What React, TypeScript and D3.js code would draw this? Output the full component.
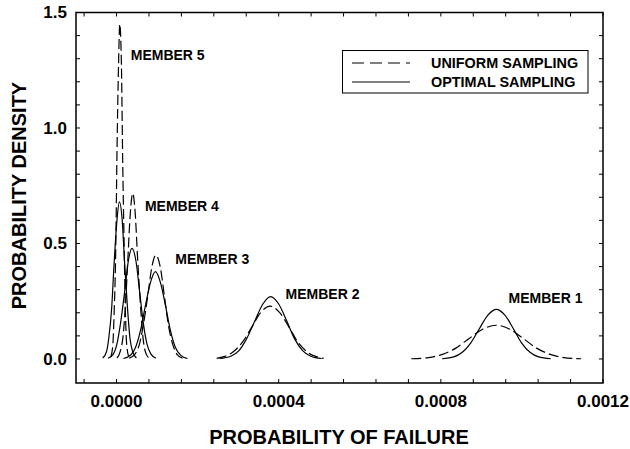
import * as d3 from 'd3'

// x values are in units of 1e-4 (probability of failure), y is density
const X_UNIT = 1e-4

const member1Uniform = [[7.27, 0.001], [7.70, 0.006], [8.04, 0.020], [8.37, 0.047], [8.70, 0.089], [9.03, 0.129], [9.37, 0.146], [9.70, 0.129], [10.03, 0.089], [10.36, 0.047], [10.70, 0.020], [11.03, 0.006], [11.46, 0.001]]
const member1Optimal = [[8.03, 0.001], [8.32, 0.009], [8.53, 0.029], [8.74, 0.070], [8.95, 0.131], [9.16, 0.190], [9.37, 0.215], [9.58, 0.190], [9.79, 0.131], [9.99, 0.070], [10.20, 0.029], [10.41, 0.009], [10.71, 0.001]]

const member2Uniform = [[2.47, 0.003], [2.65, 0.010], [2.88, 0.031], [3.11, 0.074], [3.34, 0.139], [3.56, 0.202], [3.79, 0.229], [4.02, 0.202], [4.25, 0.139], [4.47, 0.074], [4.70, 0.031], [4.93, 0.010], [5.11, 0.003]]
const member2Optimal = [[2.54, 0.002], [2.82, 0.012], [3.02, 0.036], [3.21, 0.088], [3.41, 0.164], [3.61, 0.238], [3.80, 0.270], [4.00, 0.238], [4.20, 0.164], [4.39, 0.088], [4.59, 0.036], [4.79, 0.012], [5.06, 0.002]]

const member3Uniform = [[0.31, 0.003], [0.45, 0.020], [0.56, 0.061], [0.66, 0.146], [0.77, 0.273], [0.87, 0.397], [0.97, 0.450], [1.08, 0.397], [1.18, 0.273], [1.28, 0.146], [1.39, 0.061], [1.49, 0.020], [1.63, 0.003]]
const member3Optimal = [[0.17, 0.002], [0.35, 0.017], [0.47, 0.051], [0.59, 0.123], [0.71, 0.229], [0.84, 0.333], [0.96, 0.378], [1.08, 0.333], [1.21, 0.229], [1.33, 0.123], [1.45, 0.051], [1.58, 0.017], [1.75, 0.002]]

const member4Uniform = [[0.01, 0.004], [0.09, 0.032], [0.16, 0.097], [0.22, 0.233], [0.28, 0.435], [0.34, 0.632], [0.40, 0.717], [0.46, 0.632], [0.52, 0.435], [0.59, 0.233], [0.65, 0.097], [0.71, 0.032], [0.80, 0.004]]
const member4Optimal = [[-0.21, 0.003], [-0.08, 0.021], [0.01, 0.065], [0.10, 0.156], [0.20, 0.291], [0.29, 0.423], [0.38, 0.479], [0.48, 0.423], [0.57, 0.291], [0.66, 0.156], [0.75, 0.065], [0.85, 0.021], [0.97, 0.003]]

const member5Uniform = [[-0.14, 0.009], [-0.09, 0.064], [-0.06, 0.196], [-0.02, 0.471], [0.01, 0.880], [0.05, 1.279], [0.08, 1.450], [0.12, 1.279], [0.15, 0.880], [0.19, 0.471], [0.22, 0.196], [0.25, 0.064], [0.30, 0.009]]
const member5Optimal = [[-0.34, 0.004], [-0.25, 0.030], [-0.19, 0.092], [-0.12, 0.221], [-0.06, 0.413], [0.01, 0.600], [0.07, 0.680], [0.14, 0.600], [0.20, 0.413], [0.27, 0.221], [0.33, 0.092], [0.40, 0.030], [0.49, 0.004]]

const uniformCurves = [member1Uniform, member2Uniform, member3Uniform, member4Uniform, member5Uniform]
const optimalCurves = [member1Optimal, member2Optimal, member3Optimal, member4Optimal, member5Optimal]

// member label anchors (x in 1e-4 units, y density)
const memberLabels = ['MEMBER 1', 'MEMBER 2', 'MEMBER 3', 'MEMBER 4', 'MEMBER 5']
const memberLabelX = [9.67, 4.17, 1.45, 0.70, 0.35]
const memberLabelY = [0.264, 0.280, 0.434, 0.660, 1.315]

const xMajorTicks = [0, 4, 8, 12]
const xTickLabels = ['0.0000', '0.0004', '0.0008', '0.0012']
const yMajorTicks = [0, 0.5, 1.0, 1.5]
const yTickLabels = ['0.0', '0.5', '1.0', '1.5']

const legendItems = ['UNIFORM SAMPLING', 'OPTIMAL SAMPLING']

const W = 630
const H = 449
const plot = { left: 76, right: 603, top: 12.5, bottom: 383 }
const FONT = '"Liberation Sans", Arial, sans-serif'
const DASH = '10,4'

export default function App() {
  const x = d3.scaleLinear().domain([-1, 12]).range([plot.left, plot.right])
  const y = d3.scaleLinear().domain([-0.104, 1.5]).range([plot.bottom, plot.top])

  const line = d3
    .line<number[]>()
    .x((d) => x(d[0]))
    .y((d) => y(d[1]))
    .curve(d3.curveMonotoneX)

  const xMinor = d3.range(-0.8, 12.01, 0.8)
  const yMinor = d3.range(0, 1.501, 0.1)
  const tick = 4

  return (
    <svg
      width={W}
      height={H}
      style={{ position: 'absolute', left: 0, top: 0, background: '#fff' }}
      fontFamily={FONT}
      fontWeight="bold"
    >
      <rect x={0} y={0} width={W} height={H} fill="#fff" />

      {/* ticks, all pointing inward */}
      <g stroke="#000" strokeWidth={1}>
        {xMinor.map((v, i) => (
          <g key={`xt${i}`}>
            <line x1={x(v)} x2={x(v)} y1={plot.bottom} y2={plot.bottom - tick} />
            <line x1={x(v)} x2={x(v)} y1={plot.top} y2={plot.top + tick} />
          </g>
        ))}
        {yMinor.map((v, i) => (
          <g key={`yt${i}`}>
            <line x1={plot.left} x2={plot.left + tick} y1={y(v)} y2={y(v)} />
            <line x1={plot.right} x2={plot.right - tick} y1={y(v)} y2={y(v)} />
          </g>
        ))}
      </g>

      <rect
        x={plot.left}
        y={plot.top}
        width={plot.right - plot.left}
        height={plot.bottom - plot.top}
        fill="none"
        stroke="#000"
        strokeWidth={1.5}
      />

      {/* tick labels */}
      {xMajorTicks.map((v, i) => (
        <text key={`xl${i}`} x={x(v)} y={401.5} dy="0.35em" textAnchor="middle" fontSize={17}>
          {xTickLabels[i]}
        </text>
      ))}
      {yMajorTicks.map((v, i) => (
        <text key={`yl${i}`} x={67} y={y(v)} dy="0.35em" textAnchor="end" fontSize={17}>
          {yTickLabels[i]}
        </text>
      ))}

      {/* axis titles */}
      <text x={339} y={436.5} dy="0.35em" textAnchor="middle" fontSize={20}>
        PROBABILITY OF FAILURE
      </text>
      <text
        transform={`translate(18.5,${195.5}) rotate(-90)`}
        dy="0.35em"
        textAnchor="middle"
        fontSize={20}
      >
        PROBABILITY DENSITY
      </text>

      {/* curves */}
      <g fill="none" stroke="#000" strokeWidth={1.2}>
        {uniformCurves.map((c, i) => (
          <path key={`u${i}`} d={line(c) || ''} strokeDasharray={DASH} />
        ))}
        {optimalCurves.map((c, i) => (
          <path key={`o${i}`} d={line(c) || ''} />
        ))}
      </g>

      {/* member labels */}
      {memberLabels.map((m, i) => (
        <text key={m} x={x(memberLabelX[i])} y={y(memberLabelY[i])} dy="0.35em" fontSize={14}>
          {m}
        </text>
      ))}

      {/* legend */}
      <g>
        <rect x={342.5} y={50.5} width={245.5} height={42.5} fill="#fff" stroke="#000" strokeWidth={1} />
        {legendItems.map((label, i) => (
          <g key={label}>
            <line
              x1={352}
              x2={410}
              y1={63 + i * 19}
              y2={63 + i * 19}
              stroke="#000"
              strokeWidth={1.2}
              strokeDasharray={i === 0 ? '12,6' : undefined}
            />
            <text x={431} y={63 + i * 19} dy="0.35em" fontSize={14.4}>
              {label}
            </text>
          </g>
        ))}
      </g>
    </svg>
  )
}
